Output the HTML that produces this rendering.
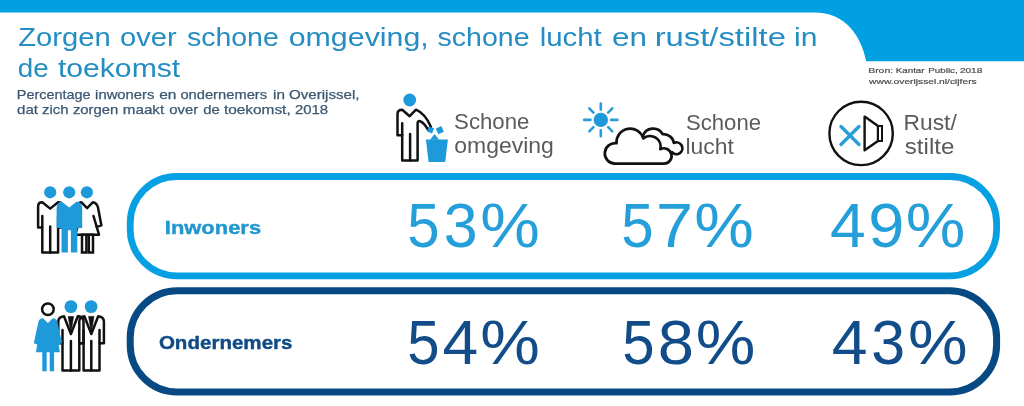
<!DOCTYPE html>
<html lang="nl">
<head>
<meta charset="utf-8">
<title>Zorgen over schone omgeving, schone lucht en rust/stilte in de toekomst</title>
<style>
  html, body { margin: 0; padding: 0; background: #ffffff; }
  body { width: 1024px; height: 406px; overflow: hidden; font-family: "Liberation Sans", sans-serif; }
  svg { display: block; position: absolute; left: 0; top: 0; will-change: transform; }
  text { font-family: "Liberation Sans", sans-serif; }
  .title { font-size: 26.5px; fill: #258dc4; }
  .sub { font-size: 12.8px; fill: #3b5872; stroke: #3b5872; stroke-width: 0.25px; }
  .src { font-size: 8px; fill: #4c4c4c; stroke: #4c4c4c; stroke-width: 0.2px; }
  .col { font-size: 22px; fill: #5b5b5b; }
  .rowl { font-size: 19px; font-weight: bold; stroke-width: 0.4px; }
  .rowl.lb { fill: #2197cf; stroke: #2197cf; }
  .rowl.db { fill: #0f4a86; stroke: #0f4a86; }
  .num { font-size: 63px; }
  .lb { fill: #259fd9; }
  .db { fill: #124d8a; }
</style>
</head>
<body>
<svg width="1024" height="406" viewBox="0 0 1024 406">
  <rect x="0" y="0" width="1024" height="406" fill="#ffffff"/>

  <!-- top bar + right block with curve -->
  <path d="M0,0 H1024 V61.2 H866.2 C861,36 846,12.5 814,12.5 H0 Z" fill="#00a0e3"/>

  <!-- pills -->
  <rect x="130.2" y="176.5" width="866.4" height="99.3" rx="46.5" ry="46.5" fill="#ffffff" stroke="#07a0e2" stroke-width="6.8"/>
  <rect x="130.2" y="290.8" width="866.4" height="101.2" rx="47" ry="47" fill="#ffffff" stroke="#074983" stroke-width="7"/>

  <!-- text -->
  <g id="texts">
    <text class="title" x="18.2" y="45.5" textLength="92.5" lengthAdjust="spacingAndGlyphs">Zorgen</text>
    <text class="title" x="120.0" y="45.5" textLength="56.6" lengthAdjust="spacingAndGlyphs">over</text>
    <text class="title" x="186.9" y="45.5" textLength="91.9" lengthAdjust="spacingAndGlyphs">schone</text>
    <text class="title" x="288.7" y="45.5" textLength="140.1" lengthAdjust="spacingAndGlyphs">omgeving,</text>
    <text class="title" x="437.6" y="45.5" textLength="92.0" lengthAdjust="spacingAndGlyphs">schone</text>
    <text class="title" x="539.7" y="45.5" textLength="62.1" lengthAdjust="spacingAndGlyphs">lucht</text>
    <text class="title" x="612.1" y="45.5" textLength="34.9" lengthAdjust="spacingAndGlyphs">en</text>
    <text class="title" x="654.7" y="45.5" textLength="131.2" lengthAdjust="spacingAndGlyphs">rust/stilte</text>
    <text class="title" x="794.0" y="45.5" textLength="23.4" lengthAdjust="spacingAndGlyphs">in</text>
    <text class="title" x="17.8" y="76.6" textLength="30.9" lengthAdjust="spacingAndGlyphs">de</text>
    <text class="title" x="57.9" y="76.6" textLength="122.3" lengthAdjust="spacingAndGlyphs">toekomst</text>
    <text class="sub" x="16.8" y="98.7" textLength="73.7" lengthAdjust="spacingAndGlyphs">Percentage</text>
    <text class="sub" x="95.1" y="98.7" textLength="59.4" lengthAdjust="spacingAndGlyphs">inwoners</text>
    <text class="sub" x="159.2" y="98.7" textLength="17.2" lengthAdjust="spacingAndGlyphs">en</text>
    <text class="sub" x="180.4" y="98.7" textLength="86.7" lengthAdjust="spacingAndGlyphs">ondernemers</text>
    <text class="sub" x="273.0" y="98.7" textLength="11.9" lengthAdjust="spacingAndGlyphs">in</text>
    <text class="sub" x="289.0" y="98.7" textLength="70.5" lengthAdjust="spacingAndGlyphs">Overijssel,</text>
    <text class="sub" x="17.0" y="114.3" textLength="21.0" lengthAdjust="spacingAndGlyphs">dat</text>
    <text class="sub" x="42.1" y="114.3" textLength="26.5" lengthAdjust="spacingAndGlyphs">zich</text>
    <text class="sub" x="72.9" y="114.3" textLength="45.5" lengthAdjust="spacingAndGlyphs">zorgen</text>
    <text class="sub" x="122.8" y="114.3" textLength="41.4" lengthAdjust="spacingAndGlyphs">maakt</text>
    <text class="sub" x="169.2" y="114.3" textLength="29.0" lengthAdjust="spacingAndGlyphs">over</text>
    <text class="sub" x="203.2" y="114.3" textLength="16.5" lengthAdjust="spacingAndGlyphs">de</text>
    <text class="sub" x="223.9" y="114.3" textLength="66.8" lengthAdjust="spacingAndGlyphs">toekomst,</text>
    <text class="sub" x="294.9" y="114.3" textLength="33.2" lengthAdjust="spacingAndGlyphs">2018</text>
    <text class="src" x="868.2" y="73.0" textLength="24.9" lengthAdjust="spacingAndGlyphs">Bron:</text>
    <text class="src" x="895.7" y="73.0" textLength="28.9" lengthAdjust="spacingAndGlyphs">Kantar</text>
    <text class="src" x="928.2" y="73.0" textLength="29.6" lengthAdjust="spacingAndGlyphs">Public,</text>
    <text class="src" x="959.9" y="73.0" textLength="22.4" lengthAdjust="spacingAndGlyphs">2018</text>
    <text class="src" x="869.1" y="84.0" textLength="107.6" lengthAdjust="spacingAndGlyphs">www.overijssel.nl/cijfers</text>
    <text class="rowl lb" x="164.8" y="234.3" textLength="96.3" lengthAdjust="spacingAndGlyphs">Inwoners</text>
    <text class="rowl db" x="158.9" y="348.9" textLength="133.6" lengthAdjust="spacingAndGlyphs">Ondernemers</text>
    <text class="num lb" x="407.2" y="247.0" textLength="32.3" lengthAdjust="spacingAndGlyphs">5</text>
    <text class="num lb" x="443.8" y="247.0" textLength="33.8" lengthAdjust="spacingAndGlyphs">3</text>
    <text class="num lb" x="480.3" y="247.0" textLength="59.6" lengthAdjust="spacingAndGlyphs">%</text>
    <text class="num lb" x="621.2" y="247.0" textLength="32.3" lengthAdjust="spacingAndGlyphs">5</text>
    <text class="num lb" x="656.0" y="247.0" textLength="37.0" lengthAdjust="spacingAndGlyphs">7</text>
    <text class="num lb" x="694.3" y="247.0" textLength="59.6" lengthAdjust="spacingAndGlyphs">%</text>
    <text class="num lb" x="830.0" y="247.0" textLength="35.7" lengthAdjust="spacingAndGlyphs">4</text>
    <text class="num lb" x="868.2" y="247.0" textLength="36.1" lengthAdjust="spacingAndGlyphs">9</text>
    <text class="num lb" x="905.8" y="247.0" textLength="59.6" lengthAdjust="spacingAndGlyphs">%</text>
    <text class="num db" x="407.2" y="364.0" textLength="32.3" lengthAdjust="spacingAndGlyphs">5</text>
    <text class="num db" x="442.5" y="364.0" textLength="35.7" lengthAdjust="spacingAndGlyphs">4</text>
    <text class="num db" x="480.3" y="364.0" textLength="59.6" lengthAdjust="spacingAndGlyphs">%</text>
    <text class="num db" x="622.3" y="364.0" textLength="32.3" lengthAdjust="spacingAndGlyphs">5</text>
    <text class="num db" x="657.7" y="364.0" textLength="36.2" lengthAdjust="spacingAndGlyphs">8</text>
    <text class="num db" x="695.7" y="364.0" textLength="59.6" lengthAdjust="spacingAndGlyphs">%</text>
    <text class="num db" x="831.7" y="364.0" textLength="35.8" lengthAdjust="spacingAndGlyphs">4</text>
    <text class="num db" x="871.3" y="364.0" textLength="33.9" lengthAdjust="spacingAndGlyphs">3</text>
    <text class="num db" x="908.1" y="364.0" textLength="59.6" lengthAdjust="spacingAndGlyphs">%</text>
    <text class="col" x="454.1" y="129.0" textLength="75.3" lengthAdjust="spacingAndGlyphs">Schone</text>
    <text class="col" x="454.2" y="153.0" textLength="99.7" lengthAdjust="spacingAndGlyphs">omgeving</text>
    <text class="col" x="686.0" y="130.0" textLength="75.0" lengthAdjust="spacingAndGlyphs">Schone</text>
    <text class="col" x="685.5" y="154.0" textLength="48.4" lengthAdjust="spacingAndGlyphs">lucht</text>
    <text class="col" x="903.6" y="130.0" textLength="53.2" lengthAdjust="spacingAndGlyphs">Rust/</text>
    <text class="col" x="904.8" y="154.0" textLength="49.6" lengthAdjust="spacingAndGlyphs">stilte</text>
  </g>

  <!-- ICON: person + bin -->
  <g id="ic-bin">
    <circle cx="409.7" cy="100" r="6.4" fill="#1e9adb"/>
    <path d="M397.5,135.2 V114 Q397.5,109.7 402.2,109.7 L409.7,116.2 L416,109.7 Q425,113.5 431,126.9 L427.8,129.4 Q424,122.5 420,121.2 Q417.6,120.5 417.6,123.5 V160.4 H402.2 V135.2 Z" fill="#ffffff" stroke="#111111" stroke-width="2.5" stroke-linejoin="round"/>
    <path d="M402.2,123.3 V135.2 M410.1,134 V160.4" fill="none" stroke="#111111" stroke-width="2.5" stroke-linecap="round"/>
    <path d="M425.9,139.5 H447.9 L445.2,162 H428.6 Z" fill="#1e9adb"/>
    <path d="M430,139.8 L434.6,134 L439.2,139.8 Z" fill="#1e9adb"/>
    <rect x="-2.7" y="-2.7" width="5.4" height="5.4" fill="#1e9adb" transform="translate(430.6,130) rotate(22)"/>
    <rect x="-3.1" y="-3.1" width="6.2" height="6.2" fill="#1e9adb" transform="translate(439.8,130.2) rotate(-25)"/>
  </g>

  <!-- ICON: sun + clouds -->
  <g id="ic-sun">
    <circle cx="600.8" cy="119.9" r="7.2" fill="#1e9adb"/>
    <g stroke="#2a9cd8" stroke-width="2.6" stroke-linecap="round">
      <path d="M600.8,109.6 V103.6 M600.8,130.2 V136.2 M590.5,119.9 H584.2 M611.1,119.9 H617.4"/>
      <path d="M593.5,112.6 L589.3,108.4 M608.1,112.6 L612.3,108.4 M593.5,127.2 L589.3,131.4 M608.1,127.2 L612.3,131.4"/>
    </g>
    <path d="M642.8,136.2 A10.8,10.8 0 0 1 662.6,134.2 A10.5,10.5 0 0 1 673.9,143.0 A5.9,5.9 0 1 1 672.0,152.2 L660,158 Z" fill="#ffffff" stroke="#111111" stroke-width="2.7" stroke-linejoin="round"/>
    <path d="M614.8,163.7 A10.3,10.3 0 1 1 616.5,143.2 A13.7,13.7 0 0 1 643.3,138.4 A10.6,10.6 0 0 1 660.3,149.2 A7.7,7.7 0 1 1 664.0,163.7 Z" fill="#ffffff" stroke="#111111" stroke-width="2.7" stroke-linejoin="round"/>
  </g>

  <!-- ICON: mute speaker -->
  <g id="ic-mute">
    <circle cx="861.1" cy="133.4" r="31.7" fill="#ffffff" stroke="#111111" stroke-width="2.4"/>
    <path d="M841,126.5 L859,144.5 M859,126.5 L841,144.5" stroke="#2a9cd8" stroke-width="3.4" stroke-linecap="round" fill="none"/>
    <path d="M864.6,116.6 L878,126 V141 L864.6,150.2 Z" fill="#ffffff" stroke="#111111" stroke-width="2.4" stroke-linejoin="round"/>
    <rect x="878" y="126" width="4" height="15" fill="#ffffff" stroke="#111111" stroke-width="2"/>
  </g>

  <!-- ICON: inwoners -->
  <g id="ic-inw">
    <circle cx="50.2" cy="192.3" r="6.1" fill="#1e9adb"/>
    <circle cx="69.2" cy="192.3" r="6.1" fill="#1e9adb"/>
    <circle cx="86.9" cy="192.3" r="6.1" fill="#1e9adb"/>
    <path d="M38.1,227.4 V206.4 Q38.1,202.2 42.3,202.2 L50.2,208.6 L58.1,202.2 Q62.3,202.2 62.3,206.4 V227.4 H58.1 V252.5 H42.3 V227.4 Z" fill="#ffffff" stroke="#111111" stroke-width="2.5" stroke-linejoin="round"/>
    <path d="M42.3,216 V227.4 M58.1,216 V227.4 M50.2,226.4 V252.5" fill="none" stroke="#111111" stroke-width="2.5" stroke-linecap="round"/>
    <path d="M87.1,208.1 L93,202.2 Q97,203 98,207.6 L101.4,225.4 L96.7,226.9 L99,234.7 H75.2 L77.5,226.9 L72.8,225.4 L76.2,207.6 Q77.2,203 81.2,202.2 Z" fill="#ffffff" stroke="#111111" stroke-width="2.5" stroke-linejoin="round"/>
    <path d="M93.5,216 L96.7,226.9 M80.7,216 L77.5,226.9" fill="none" stroke="#111111" stroke-width="2.5" stroke-linecap="round"/>
    <rect x="82" y="234.7" width="4.4" height="17.8" fill="#ffffff" stroke="#111111" stroke-width="2.5"/>
    <rect x="88.8" y="234.7" width="4.2" height="17.8" fill="#ffffff" stroke="#111111" stroke-width="2.5"/>
    <path d="M56.6,227.9 V208 Q56.8,202.2 61.6,201.4 L69.2,207.4 L76.8,201.4 Q82,202.2 82.2,208 V227.9 H77.3 V252.5 H70.9 V230.3 H67.9 V252.5 H61.5 V227.9 Z" fill="#1e9adb"/>
  </g>

  <!-- ICON: ondernemers -->
  <g id="ic-ond">
    <circle cx="70.9" cy="306.6" r="6.4" fill="#1e9adb"/>
    <circle cx="91.1" cy="306.6" r="6.4" fill="#1e9adb"/>
    <!-- man 1 -->
    <path id="m1" d="M58.3,343.3 V321.5 Q58.3,317 64,316.2 L70.9,334 L77.8,316.2 Q83.5,317 83.5,321.5 V343.3 H79.3 V370.4 H62.5 V343.3 Z" fill="#ffffff" stroke="#111111" stroke-width="2.5" stroke-linejoin="round"/>
    <path d="M70.9,340.9 V370.4 M62.5,330 V343.3 M79.3,330 V343.3" fill="none" stroke="#111111" stroke-width="2.5" stroke-linecap="round"/>
    <path d="M68.2,316.4 H73.6 L70.9,333 Z" fill="#111111" stroke="#111111" stroke-width="0.6" stroke-linejoin="round"/>
    <!-- man 2 -->
    <path d="M79.3,343.3 V321.5 Q79.3,317 84.4,316.2 L91.3,334 L98.2,316.2 Q103.9,317 103.9,321.5 V343.3 H99.5 V370.4 H83.6 V343.3 Z" fill="#ffffff" stroke="#111111" stroke-width="2.5" stroke-linejoin="round"/>
    <path d="M91.3,340.9 V370.4 M83.6,330 V343.3 M99.5,330 V343.3" fill="none" stroke="#111111" stroke-width="2.5" stroke-linecap="round"/>
    <path d="M88.6,316.4 H94 L91.3,333 Z" fill="#111111" stroke="#111111" stroke-width="0.6" stroke-linejoin="round"/>
    <path d="M77.8,316.2 Q83.5,317 83.5,321.5 V343.3" fill="none" stroke="#111111" stroke-width="2.5"/>
    <!-- woman -->
    <circle cx="47.9" cy="309.3" r="5.8" fill="#ffffff" stroke="#111111" stroke-width="2.5"/>
    <path d="M47.9,323.1 L52.9,318.2 Q56.5,318.5 57.3,321.6 L62,343.3 L58.6,344.5 L59.8,352.2 H54.1 V371.2 H49.7 V352.2 H46.7 V371.2 H42.3 V352.2 H36 L37.2,344.5 L33.8,343.3 L38.5,321.6 Q39.3,318.5 42.9,318.2 Z" fill="#1e9adb"/>
  </g>
</svg>
</body>
</html>
